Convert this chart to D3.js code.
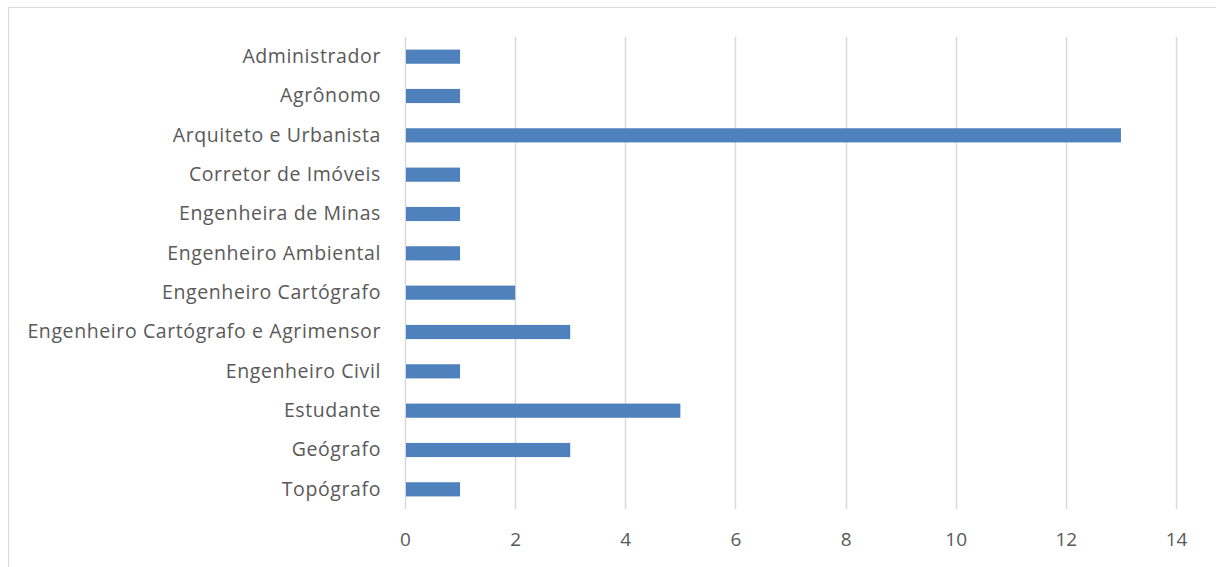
<!DOCTYPE html>
<html>
<head>
<meta charset="utf-8">
<script src="https://cdn.jsdelivr.net/npm/d3@7"></script>
<style>
  html, body { margin: 0; padding: 0; background: #fff; }
  svg { display: block; }
</style>
</head>
<body>
<svg id="chart" width="1216" height="567"></svg>
<script>
// Professions of respondents and how many gave each one
const categories = [
  "Administrador",
  "Agrônomo",
  "Arquiteto e Urbanista",
  "Corretor de Imóveis",
  "Engenheira de Minas",
  "Engenheiro Ambiental",
  "Engenheiro Cartógrafo",
  "Engenheiro Cartógrafo e Agrimensor",
  "Engenheiro Civil",
  "Estudante",
  "Geógrafo",
  "Topógrafo"
];
const counts = [1, 1, 13, 1, 1, 1, 2, 3, 1, 5, 3, 1];
const tickValues = [0, 2, 4, 6, 8, 10, 12, 14];

const svg = d3.select("#chart");
const font = "'Open Sans', sans-serif";
const textColor = "#595959";

// Outer frame of the chart area
svg.append("rect")
  .attr("x", 8.5).attr("y", 7.5)
  .attr("width", 1240).attr("height", 600)
  .attr("fill", "none")
  .attr("stroke", "#d9d9d9")
  .attr("stroke-width", 1);

const plot = { left: 405, right: 1176, top: 37, bottom: 509 };

const x = d3.scaleLinear().domain([0, 14]).range([plot.left, plot.right]);
const y = d3.scaleBand().domain(categories).range([plot.top, plot.bottom]).paddingInner(0.64).paddingOuter(0.32);

// Vertical gridlines
svg.append("g")
  .selectAll("line")
  .data(tickValues)
  .join("line")
  .attr("x1", d => Math.round(x(d)) + 0.5)
  .attr("x2", d => Math.round(x(d)) + 0.5)
  .attr("y1", plot.top)
  .attr("y2", plot.bottom)
  .attr("stroke", "#d9d9d9")
  .attr("stroke-width", 1.5);

// Bars
svg.append("g")
  .selectAll("rect")
  .data(categories)
  .join("rect")
  .attr("x", x(0) + 1)
  .attr("y", d => y(d))
  .attr("width", (d, i) => x(counts[i]) - x(0) - 1)
  .attr("height", y.bandwidth())
  .attr("fill", "#4f81bd");

// Category axis labels
const yAxis = d3.axisLeft(y).tickSize(0).tickPadding(24);
const gy = svg.append("g")
  .attr("transform", `translate(${plot.left},0)`)
  .call(yAxis);
gy.select(".domain").remove();
gy.selectAll("text")
  .attr("fill", textColor)
  .attr("font-family", font)
  .attr("font-size", 19.5)
  .attr("letter-spacing", 0.6);

// Value axis labels
const xAxis = d3.axisBottom(x).tickValues(tickValues).tickSize(0).tickPadding(0);
const gx = svg.append("g")
  .attr("transform", `translate(0,${plot.bottom})`)
  .call(xAxis);
gx.select(".domain").remove();
gx.selectAll("text")
  .attr("fill", textColor)
  .attr("font-family", font)
  .attr("font-size", 19)
  .attr("dy", "1.95em");
</script>
</body>
</html>
